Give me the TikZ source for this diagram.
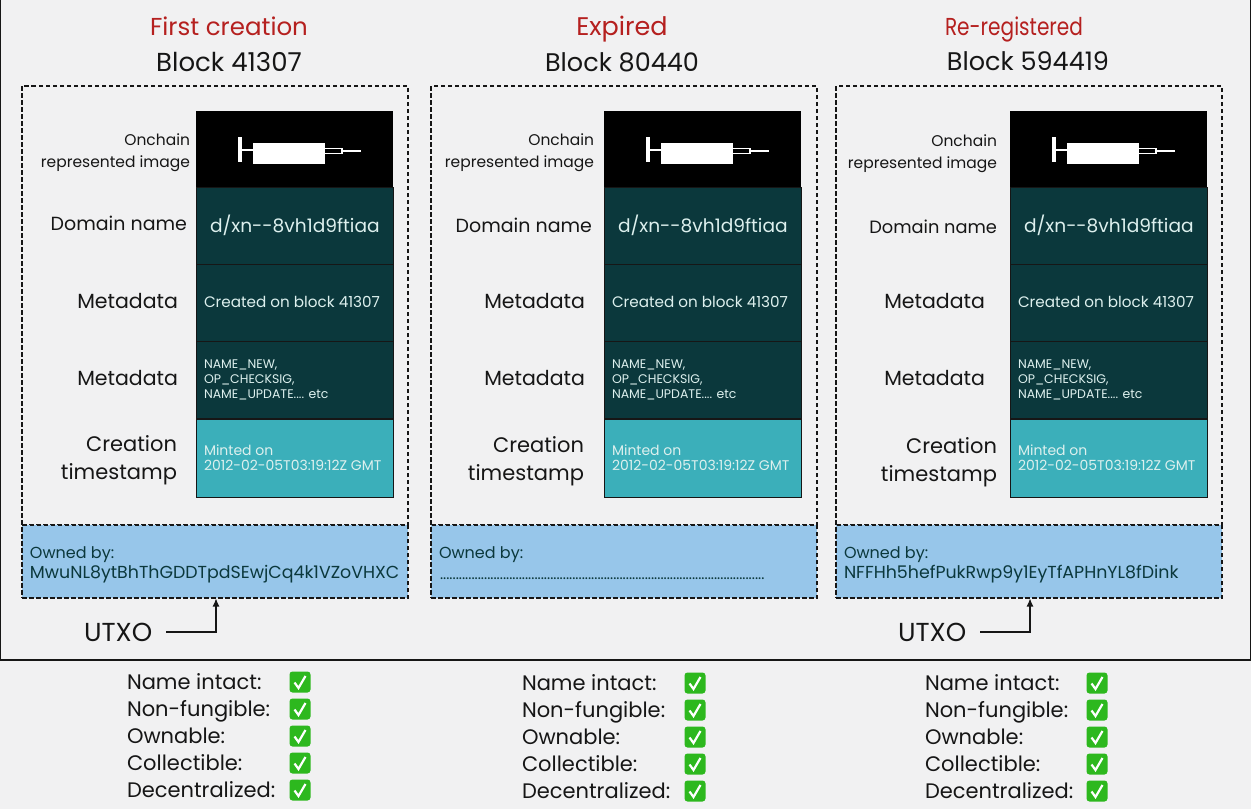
\documentclass[tikz,border=0pt]{standalone}
\usepackage{graphicx}
\usepackage{fontspec}
\setmainfont{Poppins}
\usetikzlibrary{arrows.meta}
\definecolor{bgc}{HTML}{F1F1F2}
\definecolor{teald}{HTML}{0B383C}
\definecolor{tealc}{HTML}{3BAFBA}
\definecolor{bluec}{HTML}{97C6EA}
\definecolor{inkc}{HTML}{161616}
\definecolor{redc}{HTML}{B5201F}
\definecolor{paleT}{HTML}{DDF0EE}
\definecolor{greenc}{HTML}{2DB81E}
\newcommand\fs[1]{\fontsize{#1}{#1}\selectfont}
\tikzset{
  x=1pt,y=-1pt,
  every node/.style={inner sep=0pt,outer sep=0pt,text=inkc},
  headred/.style={text=redc,font=\fs{24.5},text height=17pt,text depth=1pt},
  headblk/.style={font=\fs{26},text height=18pt,text depth=1pt},
  lab/.style={anchor=east,align=right,font=\fs{20.5},text height=15pt,text depth=0pt},
  labs/.style={anchor=east,align=right,font=\fs{15.5}},
  cell/.style={draw=inkc,line width=1pt,fill=teald},
  celltxt/.style={anchor=west,text=paleT,align=left},
  dashbox/.style={draw=inkc,line width=1.2pt,dash pattern=on 4.5pt off 2.5pt},
  own/.style={anchor=west,font=\fs{17.4},text=teald,text height=13pt,text depth=1pt},
  chk/.style={anchor=west,font=\fs{21},text height=15pt,text depth=0pt},
  utxo/.style={anchor=west,font=\fs{26},text height=18pt,text depth=0pt},
  conn/.style={draw=inkc,line width=1.1pt,-{Latex[length=8pt,width=7pt]}},
}
% #1 id, #2 box x, #3 stack x, #4 image-label right, #5 image-label y, #6 domain right, #7 domain y, #8 metadata right, #9 creation right
\newcommand\statepanel[9]{%
  \node[dashbox,minimum width=386pt,minimum height=439pt,anchor=north west] (box#1) at (#2,86) {};
  \fill[black] (#3,111) rectangle ++(197,76.5);
  \begin{scope}[shift={(#3,111)}]
    \fill[white] (42,26) rectangle (46,51);
    \fill[white] (46,37.5) rectangle (57,40);
    \fill[white] (57,32) rectangle (129,53);
    \draw[white,line width=1.2pt] (129,37.5) -- (146,37.5) -- (146,42.5) -- (129,42.5);
    \draw[white,line width=1.6pt] (146,40) -- (165,40);
  \end{scope}
  \node[cell,minimum width=197pt,minimum height=77pt,anchor=north west] (dom#1) at (#3,187.5) {};
  \node[cell,minimum width=197pt,minimum height=77pt,anchor=north west] (metaA#1) at (#3,264.5) {};
  \node[cell,minimum width=197pt,minimum height=77pt,anchor=north west] (metaB#1) at (#3,341.5) {};
  \node[cell,fill=tealc,minimum width=197pt,minimum height=78pt,anchor=north west] (time#1) at (#3,419) {};
  \node[celltxt,font=\fs{18.6}] (domT#1) at (#3+14,225) {d/xn{-}{-}8vh1d9ftiaa};
  \node[celltxt,font=\fs{15.2}] (mA#1) at (#3+8,301.5) {Created on block 41307};
  \node[celltxt,font=\fs{12.5}] (mB#1) at (#3+8,381) {\begin{tabular}{@{}l@{}}\color{paleT}NAME\_NEW,\\[2pt]\color{paleT}OP\_CHECKSIG,\\[2pt]\color{paleT}NAME\_UPDATE.... etc\end{tabular}};
  \node[celltxt,font=\fs{14}] (tT#1) at (#3+8,460) {\begin{tabular}{@{}l@{}}\color{paleT}Minted on\\[1pt]\color{paleT}2012-02-05T03:19:12Z GMT\end{tabular}};
  \node[labs] (imgL#1) at (#4,#5) {\begin{tabular}{@{}r@{}}Onchain\\[5.5pt]represented image\end{tabular}};
  \node[lab,font=\fs{\domfs}] (domL#1) at (#6,#7) {Domain name};
  \node[lab] (mAL#1) at (#8,301) {Metadata};
  \node[lab] (mBL#1) at (#8,378) {Metadata};
  \node[lab,font=\fs{21},text height=,text depth=] (tL#1) at (#9,\tly) {\begin{tabular}{@{}r@{}}Creation\\[6pt]timestamp\end{tabular}};
  \node[dashbox,fill=bluec,minimum width=386pt,minimum height=73pt,anchor=north west] (own#1) at (#2,525) {};
  \node[own,font=\fs{16}] (ownA#1) at (#2+8,552) {Owned by:};
}
\newcommand\okmark[3]{%
  \node[fill=greenc,rounded corners=3pt,minimum size=21pt] (#1) at (#2,#3) {};
  \draw[white,line width=2.2pt] (#2-5.5,#3+0.5) -- (#2-1.5,#3+6) -- (#2+5.5,#3-6);
}
\newcommand\checks[4]{% id, text x, mark x, top y
  \node[chk] (c#1a) at (#2,#4) {Name intact:};
  \node[chk] (c#1b) at (#2,#4+27) {Non-fungible:};
  \node[chk] (c#1c) at (#2,#4+54) {Ownable:};
  \node[chk] (c#1d) at (#2,#4+81) {Collectible:};
  \node[chk] (c#1e) at (#2,#4+108) {Decentralized:};
  \okmark{k#1a}{#3}{#4}
  \okmark{k#1b}{#3}{#4+27}
  \okmark{k#1c}{#3}{#4+54}
  \okmark{k#1d}{#3}{#4+81}
  \okmark{k#1e}{#3}{#4+108}
}
\begin{document}
\begin{tikzpicture}
\useasboundingbox (0,0) rectangle (1251,809);
\fill[bgc] (0,0) rectangle (1251,809);
\draw[inkc,line width=1.4pt] (0.7,-2) -- (0.7,660) (1250.3,-2) -- (1250.3,660);
\draw[inkc,line width=1.8pt] (0,660) -- (1251,660);

\node[headred] (h1) at (229,27) {First creation};
\node[headblk] (b1) at (229,63) {Block 41307};
\node[headred,font=\fs{25.5}] (h2) at (622,27) {Expired};
\node[headblk,font=\fs{25.5}] (b2) at (622,63) {Block 80440};
\node[headred] (h3) at (1014,27) {\scalebox{.82}[1]{Re-registered}};
\node[headblk,font=\fs{25.5}] (b3) at (1028,62) {Block 594419};

\def\tly{460.5}\def\domfs{19}
\statepanel{A}{22}{196}{190}{153}{187}{223}{178}{177}
\def\tly{462}
\statepanel{B}{431}{604}{594}{153}{592}{225}{585}{584}
\def\tly{463}\def\domfs{17.8}
\statepanel{C}{836}{1010}{997}{154}{997}{226}{985}{997}

\node[own] (addrA) at (30,572.5) {MwuNL8ytBhThGDDTpdSEwjCq4k1VZoVHXC};
\node[own,font=\fs{15}] (addrB) at (440,573) {.......................................................................................................};
\node[own] (addrC) at (844,572.5) {NFFHh5hefPukRwp9y1EyTfAPHnYL8fDink};

\node[utxo] (uA) at (84,632) {UTXO};
\node[utxo] (uC) at (898,632) {UTXO};
\coordinate (tipA) at (216,598.5);
\coordinate (tipC) at (1030,598.5);
\draw[conn] (166,632) -- (216,632) -- (tipA);
\draw[conn] (980,632) -- (1030,632) -- (tipC);

\checks{A}{127}{300}{682}
\checks{B}{522}{695}{683}
\checks{C}{925}{1097}{683}
\end{tikzpicture}
\end{document}
